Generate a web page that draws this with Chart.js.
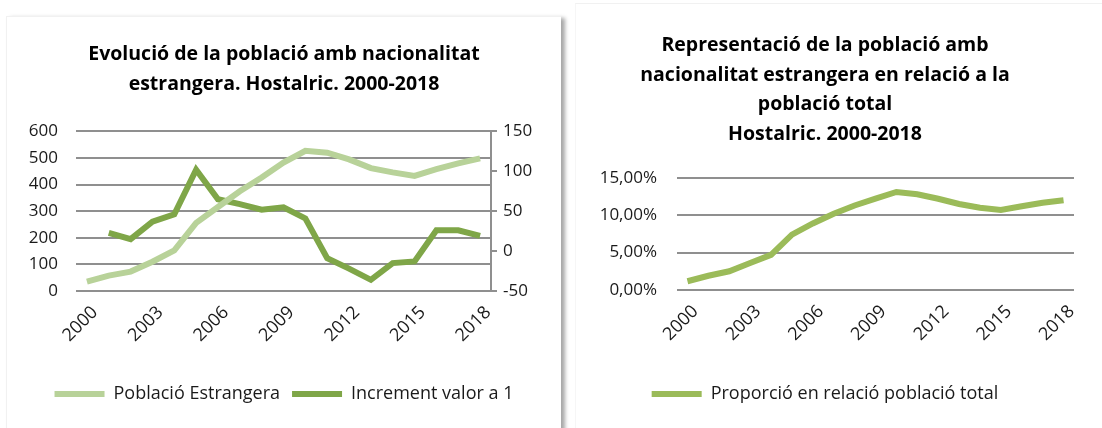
<!DOCTYPE html>
<html>
<head>
<meta charset="utf-8">
<script src="https://cdn.jsdelivr.net/npm/chart.js@4.4.1/dist/chart.umd.min.js"></script>
<style>
  html, body { margin: 0; padding: 0; background: #ffffff; }
  body { width: 1102px; height: 428px; position: relative; overflow: hidden; }
  .panel { position: absolute; background: #ffffff; }
  #leftPanel {
    left: 6px; top: 16px; width: 554px; height: 420px;
    border-top: 1px solid #f1f1f1; border-left: 1px solid #f1f1f1;
    box-shadow: 4px 2px 4px rgba(0, 0, 0, 0.35);
  }
  #rightPanel {
    left: 575px; top: 3px; width: 527px; height: 430px;
    border-top: 1px solid #f1f1f1; border-left: 1px solid #f6f6f6;
  }
  canvas { position: absolute; left: 0; top: 0; }
</style>
</head>
<body>
<div class="panel" id="leftPanel"><canvas id="evolChart" width="554" height="412"></canvas></div>
<div class="panel" id="rightPanel"><canvas id="propChart" width="527" height="425"></canvas></div>
<script>
const years = [
  "2000", "2001", "2002", "2003", "2004", "2005", "2006", "2007", "2008", "2009",
  "2010", "2011", "2012", "2013", "2014", "2015", "2016", "2017", "2018",
];

// Població amb nacionalitat estrangera (eix esquerre)
const poblacioEstrangera = [
  35, 58, 73, 110, 153, 256, 316, 375, 427, 483,
  527, 520, 495, 462, 446, 433, 458, 480, 499,
];

// Increment respecte l'any anterior (eix dret)
const incrementValor = [
  null, 23, 15, 37, 46, 102, 65, 59, 52, 55,
  41, -9, -22, -36, -15, -13, 26, 26, 19,
];

// Proporció respecte la població total
const proporcioTotal = [
  0.0117, 0.019, 0.025, 0.036, 0.047, 0.074, 0.089, 0.102, 0.113, 0.122,
  0.131, 0.128, 0.122, 0.115, 0.110, 0.107, 0.112, 0.1165, 0.120,
];

const leftTicks = [0, 100, 200, 300, 400, 500, 600];
const rightTicks = [-50, 0, 50, 100, 150];
const pctTicks = [0, 0.05, 0.1, 0.15];

const fontFamily = "'Open Sans', Lato, sans-serif";
const textColor = "#1a1a1a";
const gridColor = "#8f8f8f";

const lightGreen = "#b8d299";
const darkGreen = "#7fa648";
const midGreen = "#9bbb59";

Chart.defaults.font.family = fontFamily;
Chart.defaults.color = textColor;
Chart.defaults.animation = false;

function everyThird(value, index) {
  return index % 3 === 0 ? years[index] : "";
}

function fixedWidth(width) {
  return (scale) => { scale.width = width; };
}

function fixedHeight(height) {
  return (scale) => { scale.height = height; };
}

function flatLegendLabels(chart) {
  return Chart.defaults.plugins.legend.labels.generateLabels(chart).map((item) => ({
    ...item,
    fillStyle: item.strokeStyle,
    lineWidth: 0,
  }));
}

function xAxis(height) {
  return {
    type: "category",
    offset: true,
    grid: { display: false },
    border: { display: false },
    afterFit: fixedHeight(height),
    ticks: {
      autoSkip: false,
      maxRotation: 45,
      minRotation: 45,
      padding: 3,
      labelOffset: 8,
      font: { size: 18 },
      callback: everyThird,
    },
  };
}

function legendOptions() {
  return {
    position: "bottom",
    labels: {
      boxWidth: 50,
      boxHeight: 6,
      padding: 12,
      font: { size: 18 },
      color: textColor,
      generateLabels: flatLegendLabels,
    },
  };
}

function pctLabel(value) {
  return (value * 100).toFixed(2).replace(".", ",") + "%";
}

new Chart(document.getElementById("evolChart"), {
  type: "line",
  data: {
    labels: years,
    datasets: [
      {
        label: "Població Estrangera",
        data: poblacioEstrangera,
        borderColor: lightGreen,
        backgroundColor: lightGreen,
        borderWidth: 6,
        pointRadius: 0,
        tension: 0,
        yAxisID: "y",
      },
      {
        label: "Increment valor a 1",
        data: incrementValor,
        borderColor: darkGreen,
        backgroundColor: darkGreen,
        borderWidth: 6,
        pointRadius: 0,
        tension: 0,
        yAxisID: "y1",
      },
    ],
  },
  options: {
    responsive: false,
    layout: { padding: { left: 0, right: 0, top: 0, bottom: 16 } },
    plugins: {
      title: {
        display: true,
        text: ["Evolució de la població amb nacionalitat", "estrangera. Hostalric. 2000-2018"],
        color: "#000000",
        font: { size: 19.5, weight: "bold", lineHeight: 1.55 },
        padding: { top: 22, bottom: 32 },
      },
      legend: legendOptions(),
      tooltip: { enabled: false },
    },
    scales: {
      x: xAxis(82),
      y: {
        position: "left",
        min: 0,
        max: 600,
        afterFit: fixedWidth(69),
        afterBuildTicks: (scale) => { scale.ticks = leftTicks.map((v) => ({ value: v })); },
        grid: { color: gridColor, lineWidth: 2, drawTicks: false },
        border: { display: false },
        ticks: { padding: 18, font: { size: 17 } },
      },
      y1: {
        position: "right",
        min: -50,
        max: 150,
        afterFit: fixedWidth(70),
        afterBuildTicks: (scale) => { scale.ticks = rightTicks.map((v) => ({ value: v })); },
        grid: { drawOnChartArea: false, color: gridColor, lineWidth: 2, tickLength: 6 },
        border: { display: true, color: gridColor, width: 2 },
        ticks: { padding: 6, font: { size: 17 } },
      },
    },
  },
});

new Chart(document.getElementById("propChart"), {
  type: "line",
  data: {
    labels: years,
    datasets: [
      {
        label: "Proporció en relació població total",
        data: proporcioTotal,
        borderColor: midGreen,
        backgroundColor: midGreen,
        borderWidth: 6,
        pointRadius: 0,
        tension: 0,
      },
    ],
  },
  options: {
    responsive: false,
    layout: { padding: { left: 0, right: 29, top: 0, bottom: 16 } },
    plugins: {
      title: {
        display: true,
        text: [
          "Representació de la població amb",
          "nacionalitat estrangera en relació a la",
          "població total",
          "Hostalric. 2000-2018",
        ],
        color: "#000000",
        font: { size: 19.5, weight: "bold", lineHeight: 1.51 },
        padding: { top: 27, bottom: 29 },
      },
      legend: legendOptions(),
      tooltip: { enabled: false },
    },
    scales: {
      x: xAxis(83),
      y: {
        min: 0,
        max: 0.15,
        afterFit: fixedWidth(101),
        afterBuildTicks: (scale) => { scale.ticks = pctTicks.map((v) => ({ value: v })); },
        grid: { color: gridColor, lineWidth: 2, drawTicks: false },
        border: { display: false },
        ticks: { padding: 20, font: { size: 17 }, callback: pctLabel },
      },
    },
  },
});
</script>
</body>
</html>
